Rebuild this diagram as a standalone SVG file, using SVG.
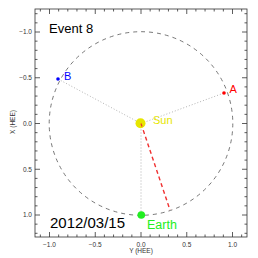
<svg xmlns="http://www.w3.org/2000/svg" width="258" height="258" viewBox="0 0 258 258">
<style>
text{font-family:"Liberation Sans","DejaVu Sans",sans-serif}
.tl{font-size:6.5px;fill:#333}
.ax{stroke:#333;stroke-width:0.8;fill:none}
.dot{stroke:#aaa;stroke-width:0.9;stroke-dasharray:1,2;fill:none}
</style>
<rect width="258" height="258" fill="#fff"/>
<g id="axes">
<rect x="35" y="9" width="212" height="228" class="ax"/>
<path class="ax" d="M40.35 237v-2.5M49.5 237v-5M58.65 237v-2.5M67.8 237v-2.5M76.95 237v-2.5M86.1 237v-2.5M95.25 237v-5M104.4 237v-2.5M113.55 237v-2.5M122.7 237v-2.5M131.85 237v-2.5M141 237v-5M150.15 237v-2.5M159.3 237v-2.5M168.45 237v-2.5M177.6 237v-2.5M186.75 237v-5M195.9 237v-2.5M205.05 237v-2.5M214.2 237v-2.5M223.35 237v-2.5M232.5 237v-5M241.65 237v-2.5
M40.35 9v2.5M49.5 9v5M58.65 9v2.5M67.8 9v2.5M76.95 9v2.5M86.1 9v2.5M95.25 9v5M104.4 9v2.5M113.55 9v2.5M122.7 9v2.5M131.85 9v2.5M141 9v5M150.15 9v2.5M159.3 9v2.5M168.45 9v2.5M177.6 9v2.5M186.75 9v5M195.9 9v2.5M205.05 9v2.5M214.2 9v2.5M223.35 9v2.5M232.5 9v5M241.65 9v2.5
M35 13.7h2.5M35 22.85h2.5M35 32h5M35 41.15h2.5M35 50.3h2.5M35 59.45h2.5M35 68.6h2.5M35 77.75h5M35 86.9h2.5M35 96.05h2.5M35 105.2h2.5M35 114.35h2.5M35 123.5h5M35 132.65h2.5M35 141.8h2.5M35 150.95h2.5M35 160.1h2.5M35 169.25h5M35 178.4h2.5M35 187.55h2.5M35 196.7h2.5M35 205.85h2.5M35 215h5M35 224.15h2.5M35 233.3h2.5
M247 13.7h-2.5M247 22.85h-2.5M247 32h-5M247 41.15h-2.5M247 50.3h-2.5M247 59.45h-2.5M247 68.6h-2.5M247 77.75h-5M247 86.9h-2.5M247 96.05h-2.5M247 105.2h-2.5M247 114.35h-2.5M247 123.5h-5M247 132.65h-2.5M247 141.8h-2.5M247 150.95h-2.5M247 160.1h-2.5M247 169.25h-5M247 178.4h-2.5M247 187.55h-2.5M247 196.7h-2.5M247 205.85h-2.5M247 215h-5M247 224.15h-2.5M247 233.3h-2.5"/>
<g class="tl" text-anchor="middle">
<text x="49.5" y="247">−1.0</text>
<text x="95.25" y="247">−0.5</text>
<text x="141" y="247">0.0</text>
<text x="186.75" y="247">0.5</text>
<text x="232.5" y="247">1.0</text>
</g>
<g class="tl" text-anchor="end">
<text x="32" y="34.3">−1.0</text>
<text x="32" y="80">−0.5</text>
<text x="32" y="125.8">0.0</text>
<text x="32" y="171.5">0.5</text>
<text x="32" y="217.3">1.0</text>
</g>
<text class="tl" x="141" y="253" text-anchor="middle">Y (HEE)</text>
<text class="tl" transform="translate(14.5 122) rotate(-90)" text-anchor="middle">X (HEE)</text>
</g>
<g id="orbit">
<circle cx="141" cy="123.5" r="91.8" fill="none" stroke="#555" stroke-width="0.8" stroke-dasharray="4,4"/>
</g>
<g id="connectors">
<path class="dot" d="M141 123.5L224 93"/>
<path class="dot" d="M141 123.5L58 79"/>
<path class="dot" d="M141 123.5L141 215"/>
<path d="M141 123.5L170 210" stroke="#f03030" stroke-width="1.4" stroke-dasharray="4,3" fill="none"/>
</g>
<g id="sun">
<circle cx="140.5" cy="123.3" r="5" fill="#e6e600"/>
<path d="M141 123.5L142 126.5" stroke="#f03030" stroke-width="1.2"/>
<text x="153" y="124" font-size="11" fill="#e6e600">Sun</text>
</g>
<g id="earth">
<circle cx="141.3" cy="215" r="3.8" fill="#22ee22"/>
<text x="147" y="228.5" font-size="12.5" fill="#22ee22">Earth</text>
</g>
<g id="A">
<circle cx="224" cy="93" r="1.8" fill="#ff0000"/>
<text x="229.5" y="93" font-size="11" fill="#ff0000">A</text>
</g>
<g id="B">
<circle cx="58" cy="79" r="1.8" fill="#0000ff"/>
<text x="64" y="80" font-size="11" fill="#0000ff">B</text>
</g>
<text x="49" y="33" font-size="13" fill="#000">Event <tspan x="86">8</tspan></text>
<text x="50" y="228" font-size="15.5" fill="#000" textLength="75" lengthAdjust="spacingAndGlyphs">2012/03/15</text>
</svg>
